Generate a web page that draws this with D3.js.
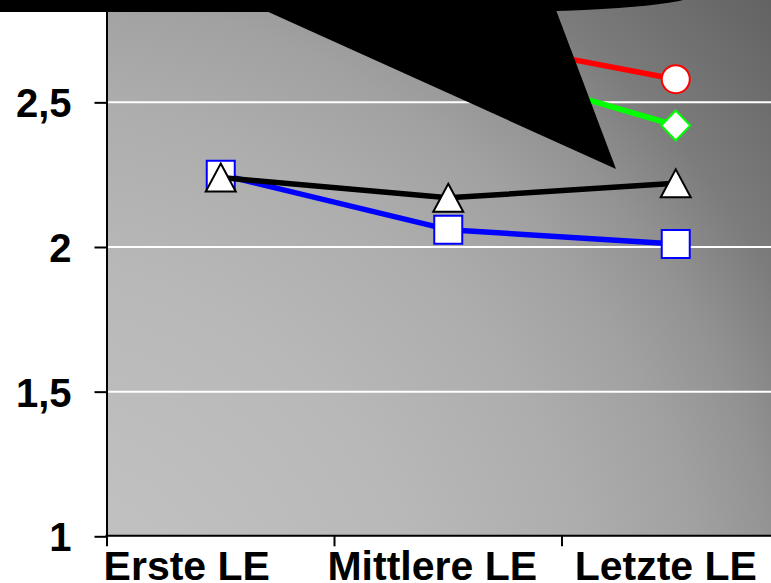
<!DOCTYPE html>
<html>
<head>
<meta charset="utf-8">
<script src="https://cdn.jsdelivr.net/npm/d3@7"></script>
<style>
  html, body { margin: 0; padding: 0; background: #ffffff; }
  svg { display: block; }
  text { font-family: "Liberation Sans", Arial, Helvetica, sans-serif; font-weight: bold; fill: #000; }
</style>
</head>
<body>
<svg id="chart" width="771" height="583"></svg>
<script>
// ---- data ----
const categories = ["Erste LE", "Mittlere LE", "Letzte LE"];
const redValues   = [2.90, 2.73, 2.58];
const greenValues = [2.88, 2.65, 2.42];
const blueValues  = [2.25, 2.06, 2.01];
const blackValues = [2.24, 2.17, 2.22];
const yTickLabels = [1, 1.5, 2, 2.5];
const gridValues  = [1.5, 2, 2.5, 3];
const yDomain = [1, 3];

// ---- layout ----
const plot = { left: 107, right: 789.5, top: -42.3, bottom: 536.3 };
const labelNudge = [-34, -16, -10];   // horizontal shift of the category labels

const series = [
  { values: redValues,   color: "#ff0000", symbol: "circle" },
  { values: greenValues, color: "#00ff00", symbol: "diamond" },
  { values: blueValues,  color: "#0000ff", symbol: "square" },
  { values: blackValues, color: "#000000", symbol: "triangle" }
];

const svg = d3.select("#chart");

const x = d3.scaleBand().domain(categories).range([plot.left, plot.right]).padding(0);
const y = d3.scaleLinear().domain(yDomain).range([plot.bottom, plot.top]);
const cx = c => x(c) + x.bandwidth() / 2;

// background gradient of the plot area
const defs = svg.append("defs");
const grad = defs.append("radialGradient")
  .attr("id", "plotBg")
  .attr("gradientUnits", "userSpaceOnUse")
  .attr("cx", 0).attr("cy", 700).attr("r", 1100);
[[0, "#c6c6c6"], [0.2, "#c0c0c0"], [0.4, "#b8b8b8"], [0.55, "#adadad"],
 [0.65, "#a1a1a1"], [0.72, "#939393"], [0.8, "#7c7c7c"], [0.95, "#626262"], [1, "#5a5a5a"]]
  .forEach(([o, c]) => grad.append("stop").attr("offset", o).attr("stop-color", c));

svg.append("rect")
  .attr("x", plot.left).attr("y", plot.top)
  .attr("width", plot.right - plot.left).attr("height", plot.bottom - plot.top)
  .attr("fill", "url(#plotBg)");

// horizontal gridlines
svg.append("g").selectAll("line")
  .data(gridValues)
  .join("line")
  .attr("x1", plot.left).attr("x2", plot.right)
  .attr("y1", d => y(d)).attr("y2", d => y(d))
  .attr("stroke", "#ffffff").attr("stroke-width", 2);

// y axis with comma decimals
const deLocale = d3.formatLocale({ decimal: ",", thousands: ".", grouping: [3], currency: ["", " €"] });
const yAxis = d3.axisLeft(y)
  .tickValues(yTickLabels)
  .tickFormat(deLocale.format("~g"))
  .tickSize(12).tickSizeOuter(0).tickPadding(23);
const gy = svg.append("g").attr("transform", `translate(${plot.left - 0.5},0)`).call(yAxis);
gy.select(".domain").attr("stroke", "#000").attr("stroke-width", 2);
gy.selectAll(".tick line").attr("stroke", "#000").attr("stroke-width", 2);
gy.selectAll(".tick text").attr("font-size", 40).attr("font-family", null).attr("dy", "0.36em");

// x axis: line, tick marks between categories, labels
const gx = svg.append("g");
gx.append("line")
  .attr("x1", plot.left - 1.5).attr("x2", plot.right)
  .attr("y1", plot.bottom - 0.5).attr("y2", plot.bottom - 0.5)
  .attr("stroke", "#000").attr("stroke-width", 2);
const boundaries = categories.map(c => x(c)).concat([x.range()[1]]);
gx.selectAll("line.tick").data(boundaries).join("line")
  .attr("class", "tick")
  .attr("x1", d => d).attr("x2", d => d)
  .attr("y1", plot.bottom - 0.5).attr("y2", plot.bottom + 10)
  .attr("stroke", "#000").attr("stroke-width", 2);
gx.selectAll("text").data(categories).join("text")
  .attr("x", (c, i) => cx(c) + labelNudge[i])
  .attr("y", 580)
  .attr("text-anchor", "middle")
  .attr("font-size", 41)
  .text(c => c);

// marker shapes, centred on their bounding box
const markerPath = {
  circle:   "M14,0A14,14 0 1,1 -14,0A14,14 0 1,1 14,0Z",
  square:   "M-14,-14H14V14H-14Z",
  diamond:  "M0,-15L14.5,0L0,15L-14.5,0Z",
  triangle: "M0,-14L15,14H-15Z"
};

const line = d3.line().x(d => cx(d.cat)).y(d => y(d.v));
series.forEach(s => {
  const pts = categories.map((c, i) => ({ cat: c, v: s.values[i] }));
  const g = svg.append("g");
  g.append("path").datum(pts)
    .attr("d", line)
    .attr("fill", "none")
    .attr("stroke", s.color)
    .attr("stroke-width", 5.5)
    .attr("stroke-linejoin", "round");
  g.selectAll("path.m").data(pts).join("path")
    .attr("class", "m")
    .attr("d", markerPath[s.symbol])
    .attr("transform", d => `translate(${cx(d.cat)},${y(d.v)})`)
    .attr("fill", "#ffffff")
    .attr("stroke", s.color)
    .attr("stroke-width", 2)
    .attr("stroke-linejoin", "miter");
});

// black speech-bubble callout hanging from the top edge
const callout = svg.append("g").attr("fill", "#000");
callout.append("path")
  .attr("d", "M-10,-20L-10,12L486,12A209,18 0 0,0 695,-6L695,-20Z");
callout.append("path")
  .attr("d", "M264,10L616,169L556,10Z");
</script>
</body>
</html>
